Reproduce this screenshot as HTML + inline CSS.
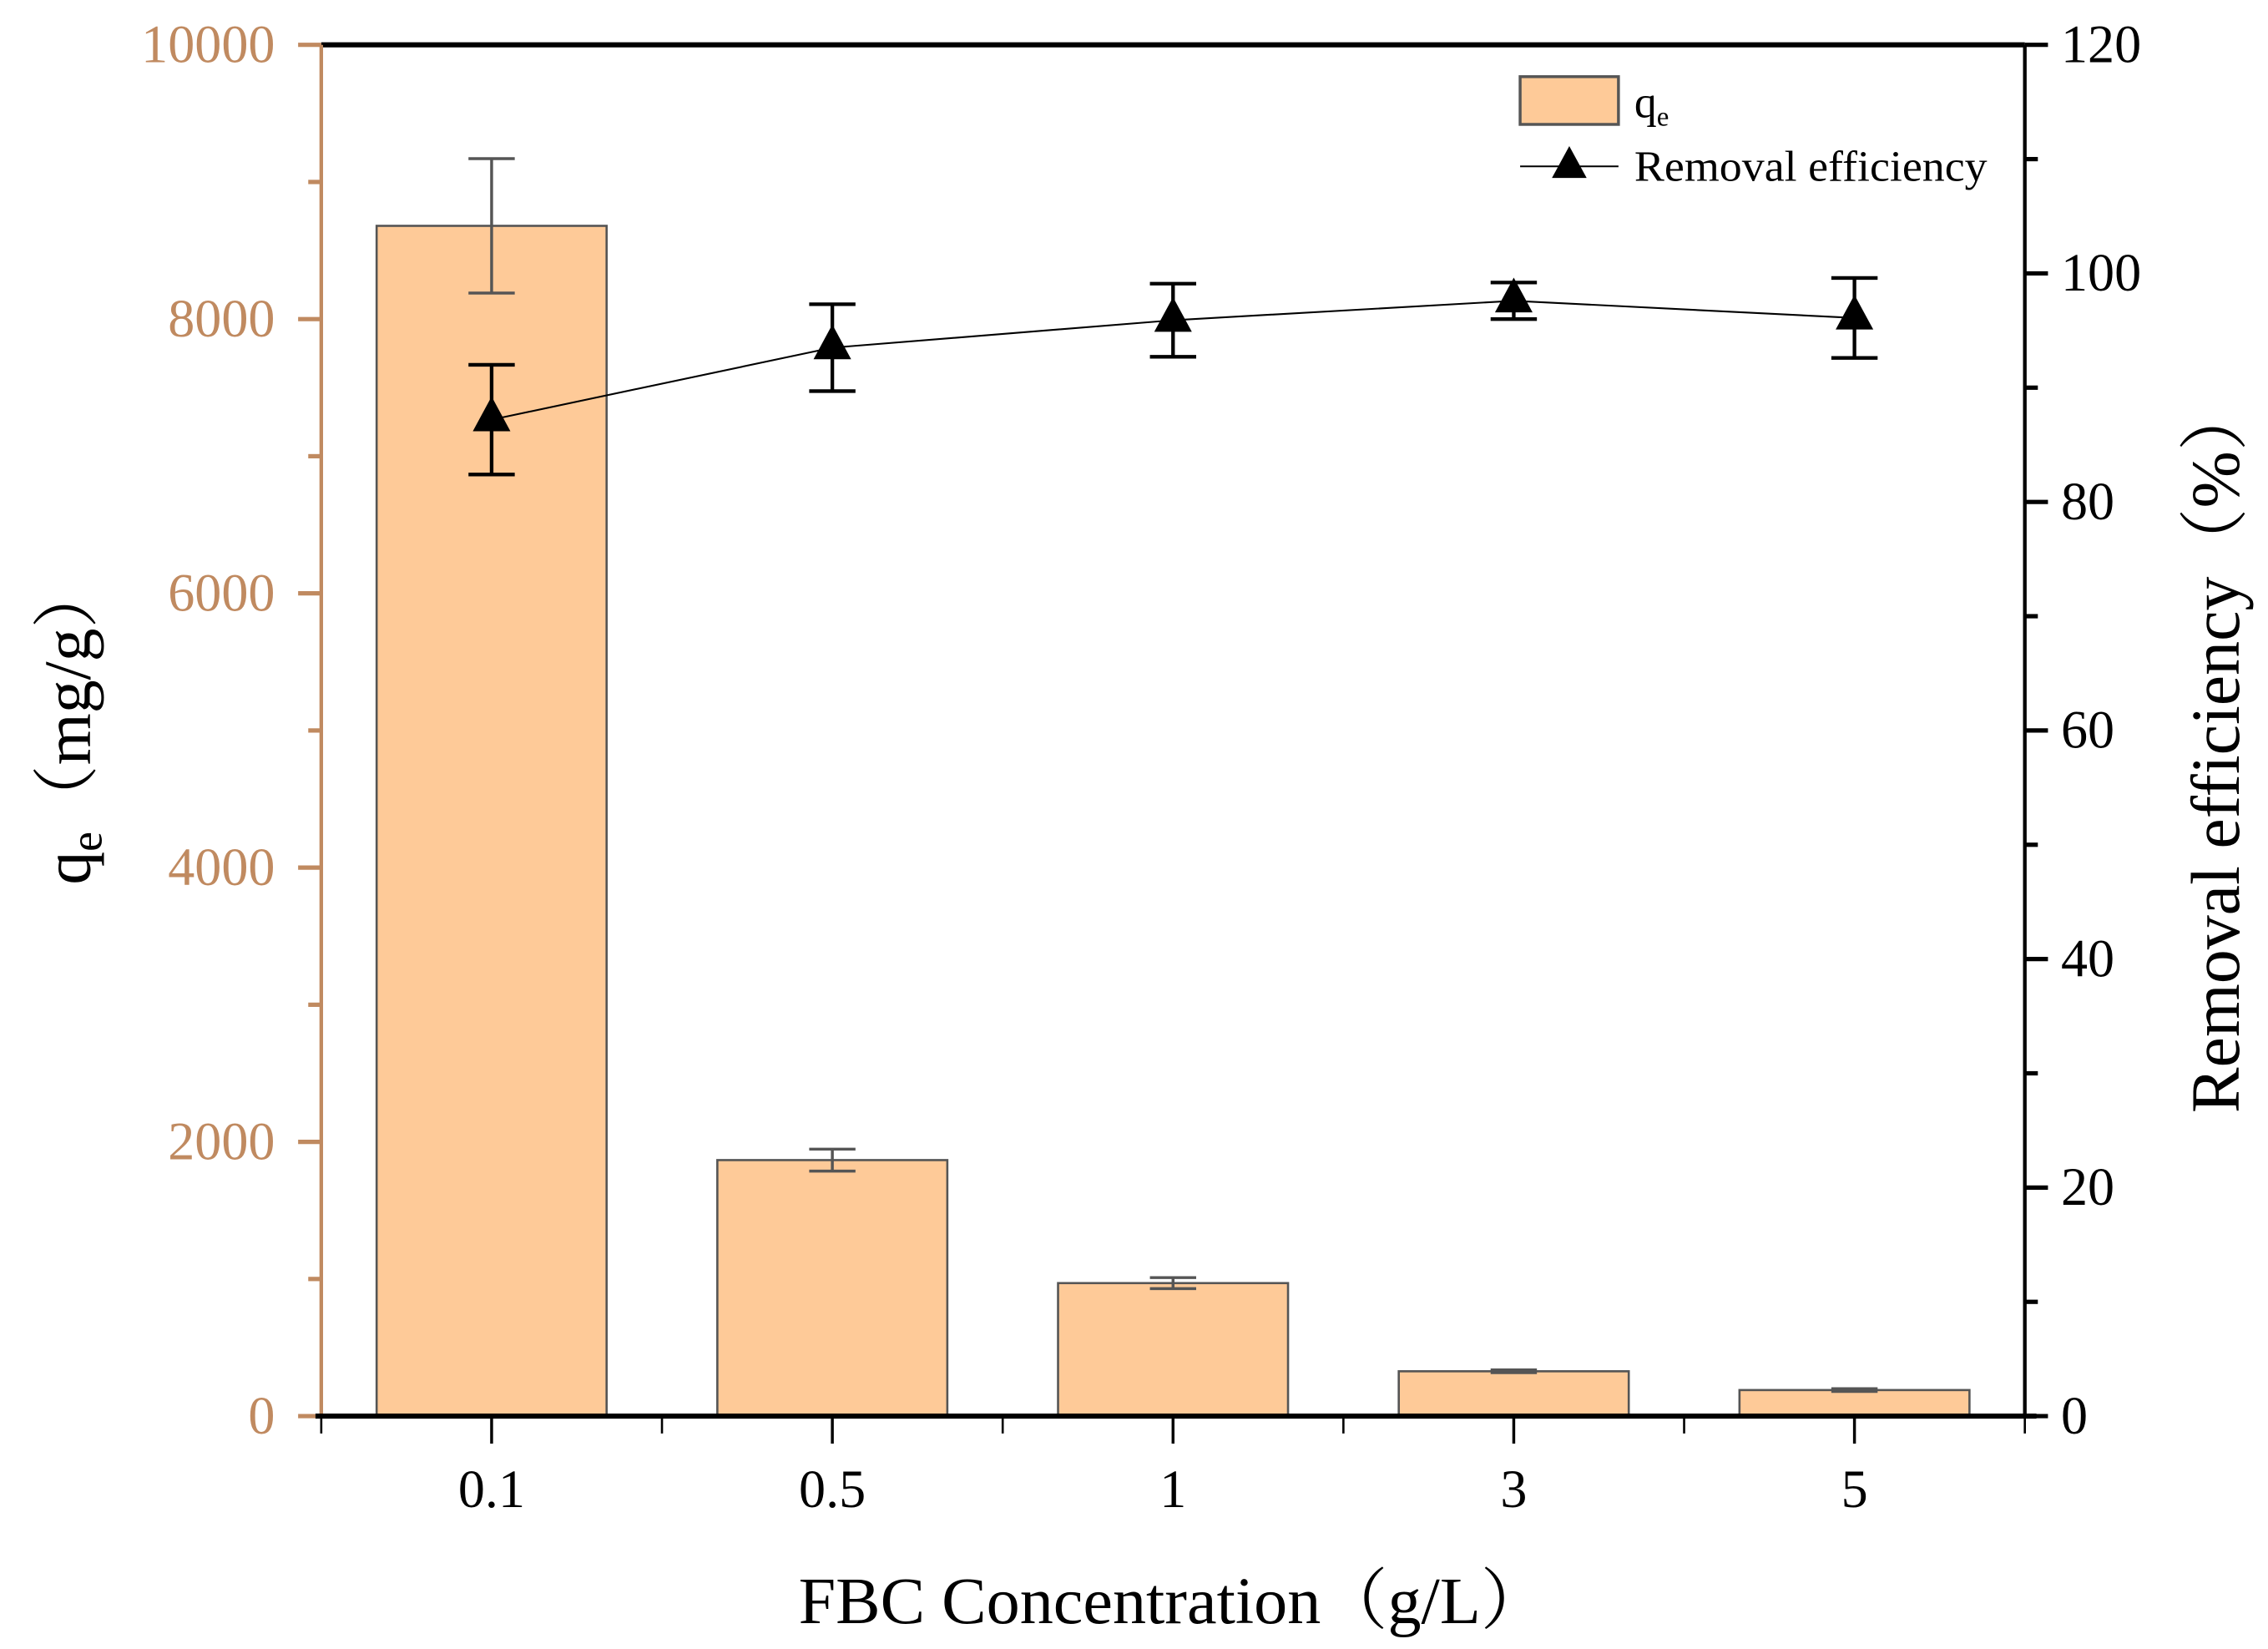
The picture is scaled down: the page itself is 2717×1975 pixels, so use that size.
<!DOCTYPE html>
<html><head><meta charset="utf-8"><style>
html,body{margin:0;padding:0;background:#fff;}
svg{display:block;font-family:"Liberation Serif","Noto Serif CJK SC",serif;}
</style></head><body>
<svg id="chart" width="2717" height="1975" viewBox="0 0 1568 1140" xmlns="http://www.w3.org/2000/svg">
<g id="axes"></g>
<g id="bars"></g>
<g id="line"></g>
<g>
  <rect x="1051" y="53" width="68" height="33" fill="#FECA98" stroke="#555" stroke-width="2"/>
  <text x="1130" y="81" font-size="31">q<tspan font-size="19" dy="6">e</tspan></text>
  <line x1="1051" y1="115" x2="1119" y2="115" stroke="#000" stroke-width="1.2"/>
  <polygon points="1085,101 1073,123 1097,123" fill="#000"/>
  <text x="1130" y="125" font-size="30" textLength="244" lengthAdjust="spacingAndGlyphs">Removal efficiency</text>
</g>
<text x="811" y="1122" font-size="46" text-anchor="middle" textLength="518" lengthAdjust="spacingAndGlyphs">FBC Concentration（g/L）</text>
<text transform="translate(62,500) rotate(-90)" font-size="46" text-anchor="middle">q<tspan font-size="31" dy="8">e</tspan><tspan dy="-8">（mg/g）</tspan></text>
<text transform="translate(1548,517) rotate(-90)" font-size="48" text-anchor="middle" textLength="505" lengthAdjust="spacingAndGlyphs">Removal efficiency（%）</text>
</svg>
<script>
const categories = ["0.1","0.5","1","3","5"];
const qeValues = [8680, 1867, 970, 327, 190];
const qeErrors = [490, 80, 40, 10, 10];
const removalValues = [87.2, 93.5, 95.9, 97.6, 96.1];
const removalErrors = [4.8, 3.8, 3.2, 1.6, 3.5];
const leftTicks = [0, 2000, 4000, 6000, 8000, 10000];
const rightTicks = [0, 20, 40, 60, 80, 100, 120];

const NS = "http://www.w3.org/2000/svg";
const X0 = 222, X1 = 1400, Y0 = 979, Y1 = 31;
const band = (X1 - X0) / categories.length;
function xC(i){ return X0 + band * (i + 0.5); }
function yL(v){ return Y0 - (v / 10000) * (Y0 - Y1); }
function yR(v){ return Y0 - (v / 120) * (Y0 - Y1); }
function mk(tag, attrs, parent){ const e = document.createElementNS(NS, tag); for (const k in attrs) e.setAttribute(k, attrs[k]); parent.appendChild(e); return e; }

const axes = document.getElementById('axes');
const brown = "#C08A60";
let e;
e = mk('line', {x1:X0, y1:Y1, x2:X1, y2:Y1, stroke:'#000', 'stroke-width':3.5}, axes);
 
e = mk('line', {x1:X1, y1:Y1, x2:X1, y2:Y0, stroke:'#000', 'stroke-width':2.5}, axes);
 
e = mk('line', {x1:X0, y1:Y1, x2:X0, y2:Y0, stroke:brown, 'stroke-width':2.5}, axes);
 
for (let v = 0; v <= 10000; v += 1000) {
  const major = v % 2000 === 0;
  e = mk('line', {x1:X0 - (major ? 16 : 9), y1:yL(v), x2:X0, y2:yL(v), stroke:brown, 'stroke-width':3}, axes);
   
}
leftTicks.forEach(v => {
  e = mk('text', {x:190, y:yL(v) + 12, 'font-size':37, fill:brown, 'text-anchor':'end'}, axes);
  e.textContent = v;
   
});
for (let v = 0; v <= 120; v += 10) {
  const major = v % 20 === 0;
  e = mk('line', {x1:X1, y1:yR(v), x2:X1 + (major ? 16 : 9), y2:yR(v), stroke:'#000', 'stroke-width':3}, axes);
   
}
rightTicks.forEach(v => {
  e = mk('text', {x:1425, y:yR(v) + 12, 'font-size':37, fill:'#000'}, axes);
  e.textContent = v;
   
});

const bars = document.getElementById('bars');
const bw = band * 0.675;
categories.forEach((c, i) => {
  const x = xC(i), y = yL(qeValues[i]);
  e = mk('rect', {x:x - bw/2, y:y, width:bw, height:Y0 - y, fill:'#FECA98', stroke:'#555', 'stroke-width':1.5}, bars);
   
  const yt = yL(qeValues[i] + qeErrors[i]), yb = yL(qeValues[i] - qeErrors[i]);
  e = mk('path', {d:`M${x},${yt}V${yb}M${x-16},${yt}H${x+16}M${x-16},${yb}H${x+16}`, stroke:'#555', 'stroke-width':2, fill:'none'}, bars);
   
});

e = mk('line', {x1:X0 - 4, y1:Y0, x2:X1 + 8, y2:Y0, stroke:'#000', 'stroke-width':3.5}, axes.parentNode);
 
for (let i = 0; i <= categories.length; i++) {
  e = mk('line', {x1:X0 + band*i, y1:Y0, x2:X0 + band*i, y2:Y0 + 12, stroke:'#000', 'stroke-width':1.5}, axes);
   
}
categories.forEach((c, i) => {
  e = mk('line', {x1:xC(i), y1:Y0, x2:xC(i), y2:Y0 + 19, stroke:'#000', 'stroke-width':2}, axes);
   
  e = mk('text', {x:xC(i), y:1042, 'font-size':37, 'text-anchor':'middle'}, axes);
  e.textContent = c;
   
});

const line = document.getElementById('line');
e = mk('polyline', {points: removalValues.map((v, i) => xC(i) + ',' + yR(v)).join(' '), fill:'none', stroke:'#000', 'stroke-width':1.2}, line);
 
removalValues.forEach((v, i) => {
  const x = xC(i), y = yR(v);
  const yt = yR(v + removalErrors[i]), yb = yR(v - removalErrors[i]);
  e = mk('path', {d:`M${x},${yt}V${yb}M${x-16},${yt}H${x+16}M${x-16},${yb}H${x+16}`, stroke:'#000', 'stroke-width':2.5, fill:'none'}, line);
   
  e = mk('polygon', {points:`${x},${y-16} ${x-13},${y+8} ${x+13},${y+8}`, fill:'#000'}, line);
   
});
</script>
</body></html>
